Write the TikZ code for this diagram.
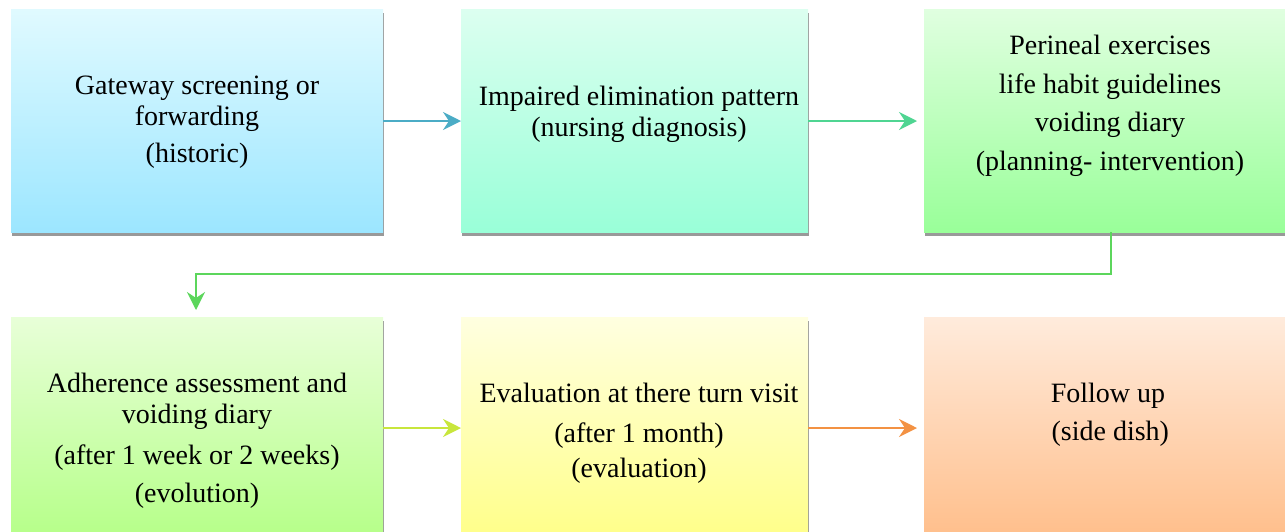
\documentclass[tikz,border=0pt]{standalone}
\usepackage{fontspec}
\setmainfont{Liberation Serif}
\usetikzlibrary{arrows.meta,shadows}
\definecolor{b1t}{HTML}{E0FAFF}\definecolor{b1b}{HTML}{9CE6FF}
\definecolor{b2t}{HTML}{DCFFF0}\definecolor{b2b}{HTML}{99FFD8}
\definecolor{b3t}{HTML}{E0FFE0}\definecolor{b3b}{HTML}{99FF99}
\definecolor{b4t}{HTML}{E8FFD8}\definecolor{b4b}{HTML}{B5FF88}
\definecolor{b5t}{HTML}{FFFFE0}\definecolor{b5b}{HTML}{FFFF88}
\definecolor{b6t}{HTML}{FFEBDC}\definecolor{b6b}{HTML}{FFBE8A}
\definecolor{a1}{HTML}{4BACC6}
\definecolor{a2}{HTML}{4FD592}
\definecolor{a3}{HTML}{5CD65C}
\definecolor{a4}{HTML}{C8E63C}
\definecolor{a5}{HTML}{F39243}
\tikzset{
  box/.style={rectangle, inner sep=0pt, anchor=north west, draw=none,
    drop shadow={shadow xshift=1pt, shadow yshift=-4pt, fill=black!40, opacity=1}},
  txt/.style={align=center, inner sep=0pt, anchor=base, font=\fontsize{28}{31}\selectfont},
  conn/.style={line width=2.2pt, -{Stealth[length=18pt,width=18pt,inset=6pt]}},
}
\begin{document}
\begin{tikzpicture}[x=1pt,y=-1pt]
\useasboundingbox (0,0) rectangle (1285,531);
\begin{scope}
\clip (0,0) rectangle (1285,531);
% top row
\node[box, minimum width=372pt, minimum height=223pt, top color=b1t, bottom color=b1b] (b1) at (11,9) {};
\node[box, minimum width=347pt, minimum height=223pt, top color=b2t, bottom color=b2b] (b2) at (461,9) {};
\node[box, minimum width=380pt, minimum height=223pt, top color=b3t, bottom color=b3b] (b3) at (924,9) {};
% bottom row
\node[box, minimum width=372pt, minimum height=223pt, top color=b4t, bottom color=b4b] (b4) at (11,317) {};
\node[box, minimum width=347pt, minimum height=223pt, top color=b5t, bottom color=b5b] (b5) at (461,317) {};
\node[box, minimum width=380pt, minimum height=223pt, top color=b6t, bottom color=b6b] (b6) at (924,317) {};
\end{scope}
% texts (base anchor = baseline of the last line)
\node[txt] (t1) at (197,162) {Gateway screening or\\forwarding\\[6pt](historic)};
\node[txt] (t2) at (639,136) {Impaired elimination pattern\\(nursing diagnosis)};
\node[txt] (t3) at (1110,170) {Perineal exercises\\[8pt]life habit guidelines\\[7pt]voiding diary\\[8pt](planning- intervention)};
\node[txt] (t4) at (197,502) {Adherence assessment and\\voiding diary\\[10pt](after 1 week or 2 weeks)\\[7pt](evolution)};
\node[txt] (t5) at (639,477) {Evaluation at there turn visit\\[9pt](after 1 month)\\[4pt](evaluation)};
\node[txt] (t6) at (1108,440) {Follow up\\[7pt]\,(side dish)};
% connectors
\draw[conn, a1] (b1.east |- 0,121) -- (b2.west |- 0,121);
\draw[conn, a2, shorten >=7pt] (b2.east |- 0,121) -- (b3.west |- 0,121);
\coordinate (c1) at (1111,274);
\coordinate (c2) at (196,274);
\draw[conn, a3, shorten >=7pt] (b3.south -| c1) -- (c1) -- (c2) -- (b4.north -| c2);
\draw[conn, a4] (b4.east |- 0,428) -- (b5.west |- 0,428);
\draw[conn, a5, shorten >=7pt] (b5.east |- 0,428) -- (b6.west |- 0,428);
\end{tikzpicture}
\end{document}
